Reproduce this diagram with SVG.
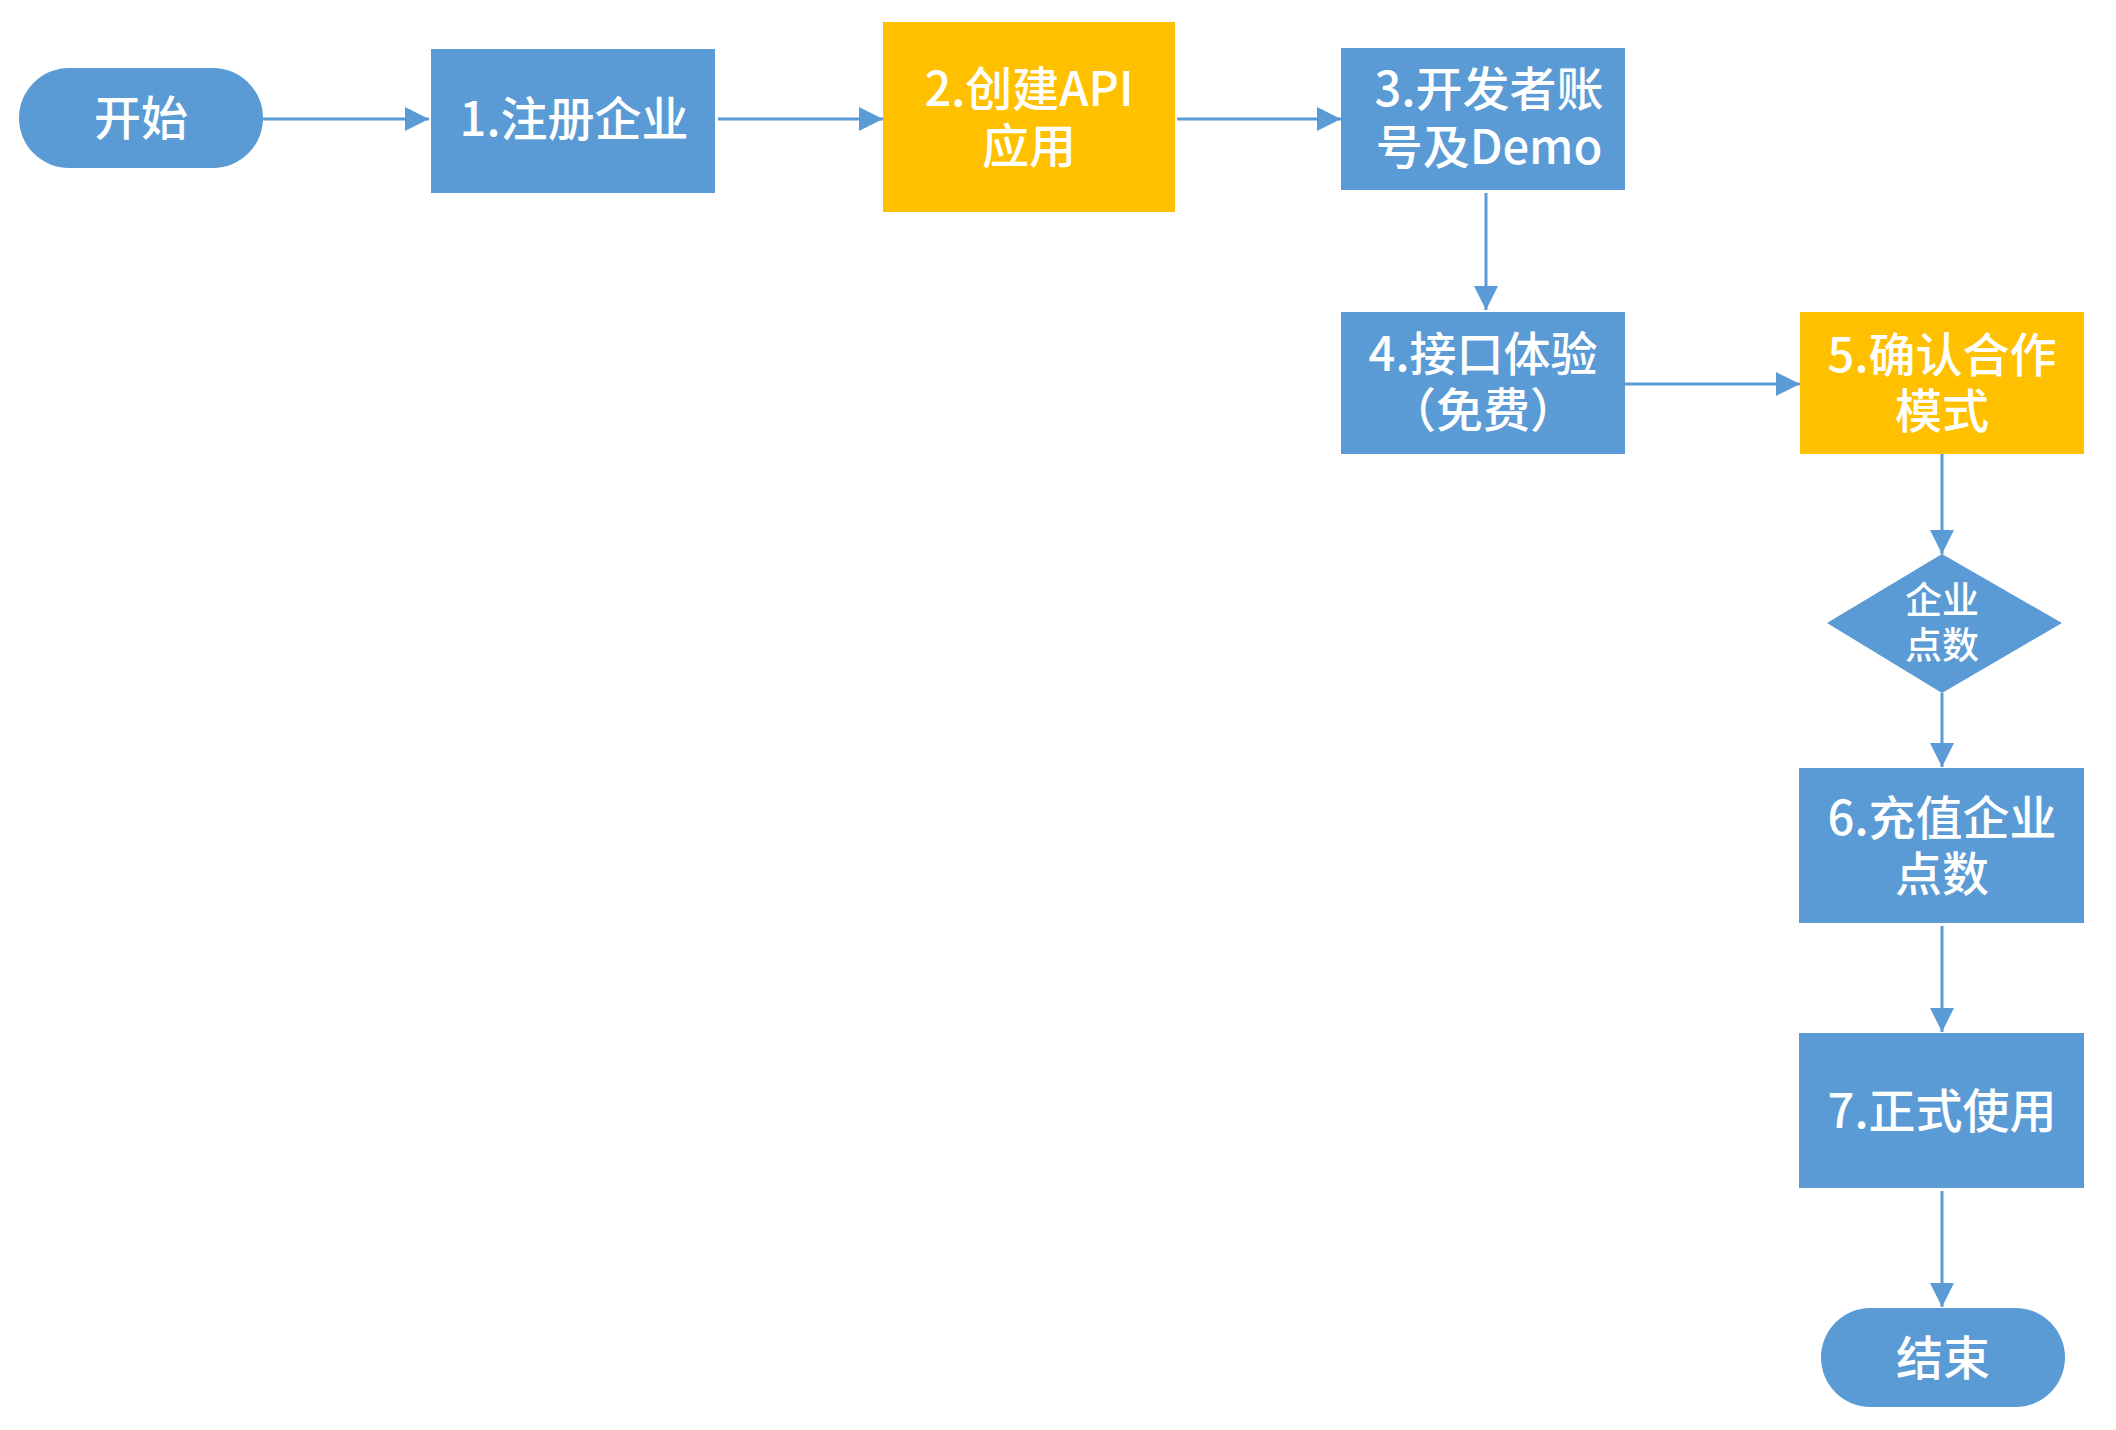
<svg xmlns="http://www.w3.org/2000/svg" width="2116" height="1430" viewBox="0 0 2116 1430">
<style>
.b{fill:#5B9BD5}
.y{fill:#FFC000}
.t{fill:#FFFFFF;font-family:"Noto Sans CJK SC","Noto Sans",sans-serif;font-size:47px;font-weight:500;text-anchor:middle}
.s{font-size:37px}
.c{stroke:#5B9BD5;stroke-width:3;fill:none}
</style>
<defs>
<marker id="ah" markerUnits="userSpaceOnUse" markerWidth="24" markerHeight="24" refX="24" refY="12" orient="auto">
<path d="M0,0 L24,12 L0,24 Z" fill="#5B9BD5"/>
</marker>
</defs>
<rect width="2116" height="1430" fill="#FFFFFF"/>
<g id="connectors">
<path class="c" marker-end="url(#ah)" d="M263,119 H429"/>
<path class="c" marker-end="url(#ah)" d="M718,119 H883"/>
<path class="c" marker-end="url(#ah)" d="M1177,119 H1341"/>
<path class="c" marker-end="url(#ah)" d="M1486,193 V310"/>
<path class="c" marker-end="url(#ah)" d="M1625,384 H1800"/>
<path class="c" marker-end="url(#ah)" d="M1942,454 V554"/>
<path class="c" marker-end="url(#ah)" d="M1942,693 V767"/>
<path class="c" marker-end="url(#ah)" d="M1942,926 V1032"/>
<path class="c" marker-end="url(#ah)" d="M1942,1191 V1307"/>
</g>
<g id="start">
<rect class="b" x="19" y="68" width="244" height="100" rx="50" ry="50"/>
<text class="t" x="141" y="135">开始</text>
</g>
<g id="step1">
<rect class="b" x="431" y="49" width="284" height="144"/>
<text class="t" x="574" y="136">1.注册企业</text>
</g>
<g id="step2">
<rect class="y" x="883" y="22" width="292" height="190"/>
<text class="t"><tspan x="1029" y="106">2.创建API</tspan><tspan x="1029" y="163">应用</tspan></text>
</g>
<g id="step3">
<rect class="b" x="1341" y="48" width="284" height="142"/>
<text class="t"><tspan x="1489" y="106">3.开发者账</tspan><tspan x="1489" y="164">号及Demo</tspan></text>
</g>
<g id="step4">
<rect class="b" x="1341" y="312" width="284" height="142"/>
<text class="t"><tspan x="1483" y="371">4.接口体验</tspan><tspan x="1483" y="427">（免费）</tspan></text>
</g>
<g id="step5">
<rect class="y" x="1800" y="312" width="284" height="142"/>
<text class="t"><tspan x="1942" y="372">5.确认合作</tspan><tspan x="1942" y="428">模式</tspan></text>
</g>
<g id="decision">
<polygon class="b" points="1942,554 2062,623 1942,693 1827,623"/>
<text class="t s"><tspan x="1942" y="614">企业</tspan><tspan x="1942" y="659">点数</tspan></text>
</g>
<g id="step6">
<rect class="b" x="1799" y="768" width="285" height="155"/>
<text class="t"><tspan x="1942" y="835">6.充值企业</tspan><tspan x="1942" y="891">点数</tspan></text>
</g>
<g id="step7">
<rect class="b" x="1799" y="1033" width="285" height="155"/>
<text class="t" x="1942" y="1128">7.正式使用</text>
</g>
<g id="end">
<rect class="b" x="1821" y="1308" width="244" height="99" rx="49.5" ry="49.5"/>
<text class="t" x="1943" y="1375">结束</text>
</g>
</svg>
